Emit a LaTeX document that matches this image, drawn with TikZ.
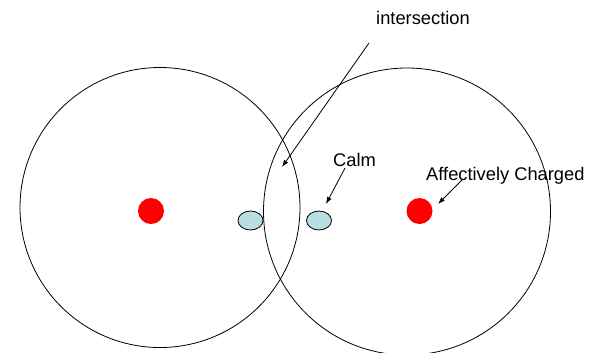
\documentclass[tikz,border=0pt]{standalone}
\usepackage{fontspec}
\setmainfont{Liberation Sans}
\usetikzlibrary{arrows.meta}
\definecolor{calmblue}{RGB}{185,222,226}
\begin{document}
\begin{tikzpicture}[x=1bp,y=-1bp,
  ring/.style={draw=black,line width=0.8bp},
  dot/.style={fill=red,draw=none},
  calmdot/.style={fill=calmblue,draw=black,line width=0.8bp},
  lbl/.style={anchor=base west,inner sep=0pt,font=\fontsize{18.3bp}{22bp}\selectfont},
  pointer/.style={draw=black,line width=0.8bp,-{Latex[length=7bp,width=5bp]}}]
\useasboundingbox (0,0) rectangle (594,352);
\draw[ring] (160,207.5) circle[radius=140];
\draw[ring] (407,211.5) circle[radius=143.5];
\fill[dot] (151,211) circle[radius=13];
\fill[dot] (419.5,211) circle[radius=13];
\draw[calmdot] (250.5,220.5) ellipse[x radius=12.5,y radius=9.5];
\draw[calmdot] (319,220.5) ellipse[x radius=12.5,y radius=9.5];
\node[lbl] (inter) at (376,24) {intersection};
\node[lbl] (calm) at (333,166) {Calm};
\node[lbl] (aff) at (426,180) {Affectively Charged};
\coordinate (interS) at (369,43);
\coordinate (interT) at (282,167);
\coordinate (calmS) at (345,168);
\coordinate (calmT) at (326,204);
\coordinate (affS) at (463,179);
\coordinate (affT) at (438,204);
\draw[pointer] (interS) -- (interT);
\draw[pointer] (calmS) -- (calmT);
\draw[pointer] (affS) -- (affT);
\end{tikzpicture}
\end{document}
